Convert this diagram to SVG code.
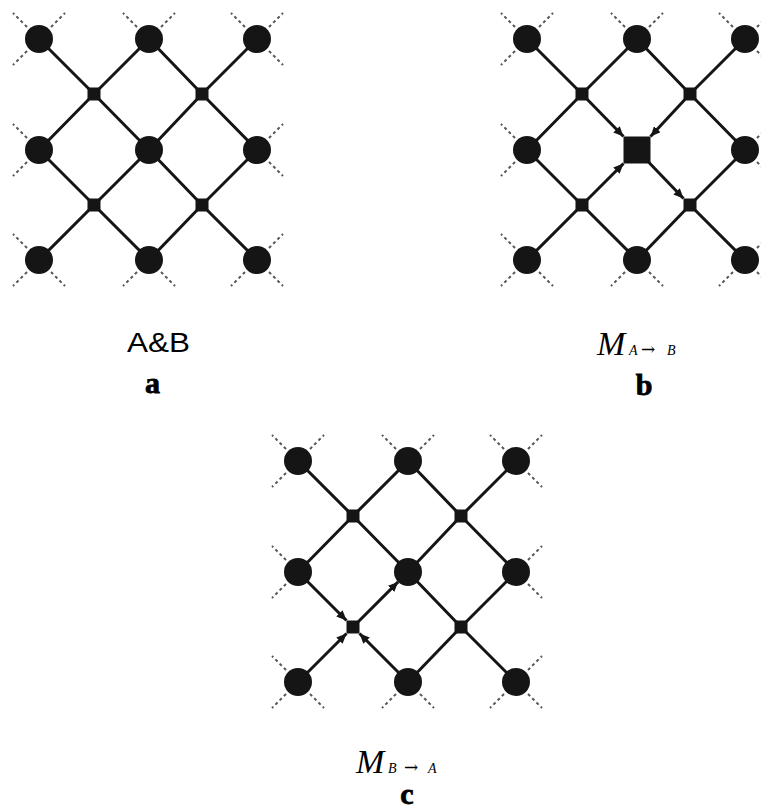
<svg xmlns="http://www.w3.org/2000/svg" width="761" height="811" viewBox="0 0 761 811">
<style>
.ln{stroke:#151515;stroke-width:3;fill:none}
.stub{stroke:#555;stroke-width:2;stroke-dasharray:3 3;fill:none}
.arw{stroke:#151515;stroke-width:3;fill:none;marker-end:url(#arr)}
.A{fill:#151515}
.B{fill:#151515}
.lab{font-family:"Liberation Sans",Arial,sans-serif;font-size:27px;fill:#000}
.math{font-family:"Liberation Serif","Times New Roman",serif;font-style:italic;fill:#000}
.arrowsym{font-family:"DejaVu Serif","Liberation Serif",serif;font-style:normal}
.let{font-family:"Liberation Serif","Times New Roman",serif;font-weight:bold;font-size:30px;text-anchor:middle;fill:#000;stroke:#000;stroke-width:0.8}
</style>
<defs>
<marker id="arr" markerUnits="userSpaceOnUse" markerWidth="10" markerHeight="9" refX="10" refY="4.5" orient="auto"><path d="M0,0 L10,4.5 L0,9 Z" fill="#151515"/></marker>
<path id="stubs" class="stub" d="M27 27l-14 -14M51 27l14 -14M27 51l-14 14M137 27l-14 -14M161 27l14 -14M245 27l-14 -14M269 27l14 -14M269 51l14 14M27 138l-14 -14M27 162l-14 14M269 138l14 -14M269 162l14 14M27 248l-14 -14M27 272l-14 14M51 272l14 14M137 272l-14 14M161 272l14 14M269 248l14 -14M245 272l-14 14M269 272l14 14"/>
</defs>

<!-- Panel a -->
<g id="panel-a">
  <g id="connectors-a">
    <use href="#stubs"/>
    <path class="ln" d="M94 94L39 39M94 94L149 39M94 94L39 150M94 94L149 150M202 94L149 39M202 94L257 39M202 94L149 150M202 94L257 150M94 205L39 150M94 205L149 150M94 205L39 260M94 205L149 260M202 205L149 150M202 205L257 150M202 205L149 260M202 205L257 260"/>
  </g>
  <g id="a-c00"><circle class="A" cx="39" cy="39" r="14"/></g>
  <g id="a-c10"><circle class="A" cx="149" cy="39" r="14"/></g>
  <g id="a-c20"><circle class="A" cx="257" cy="39" r="14"/></g>
  <g id="a-c01"><circle class="A" cx="39" cy="150" r="14"/></g>
  <g id="a-c11"><circle class="A" cx="149" cy="150" r="14"/></g>
  <g id="a-c21"><circle class="A" cx="257" cy="150" r="14"/></g>
  <g id="a-c02"><circle class="A" cx="39" cy="260" r="14"/></g>
  <g id="a-c12"><circle class="A" cx="149" cy="260" r="14"/></g>
  <g id="a-c22"><circle class="A" cx="257" cy="260" r="14"/></g>
  <g id="a-s00"><rect class="B" x="87.5" y="87.5" width="13" height="13"/></g>
  <g id="a-s10"><rect class="B" x="195.5" y="87.5" width="13" height="13"/></g>
  <g id="a-s01"><rect class="B" x="87.5" y="198.5" width="13" height="13"/></g>
  <g id="a-s11"><rect class="B" x="195.5" y="198.5" width="13" height="13"/></g>
</g>

<!-- Panel b -->
<g id="panel-b" transform="translate(488,0)">
  <g id="connectors-b">
    <use href="#stubs"/>
    <path class="ln" d="M94 94L39 39M94 94L149 39M94 94L39 150M202 94L149 39M202 94L257 39M202 94L257 150M94 205L39 150M94 205L39 260M94 205L149 260M202 205L257 150M202 205L149 260M202 205L257 260"/>
    <path class="arw" d="M94 94L135.5 136.5"/>
    <path class="arw" d="M202 94L162.5 136.5"/>
    <path class="arw" d="M94 205L135.5 163.5"/>
    <path class="arw" d="M149 150L195.5 198.5"/>
  </g>
  <g id="b-c00"><circle class="A" cx="39" cy="39" r="14"/></g>
  <g id="b-c10"><circle class="A" cx="149" cy="39" r="14"/></g>
  <g id="b-c20"><circle class="A" cx="257" cy="39" r="14"/></g>
  <g id="b-c01"><circle class="A" cx="39" cy="150" r="14"/></g>
  <g id="b-c11"><rect class="B" x="135.5" y="136.5" width="27" height="27"/></g>
  <g id="b-c21"><circle class="A" cx="257" cy="150" r="14"/></g>
  <g id="b-c02"><circle class="A" cx="39" cy="260" r="14"/></g>
  <g id="b-c12"><circle class="A" cx="149" cy="260" r="14"/></g>
  <g id="b-c22"><circle class="A" cx="257" cy="260" r="14"/></g>
  <g id="b-s00"><rect class="B" x="87.5" y="87.5" width="13" height="13"/></g>
  <g id="b-s10"><rect class="B" x="195.5" y="87.5" width="13" height="13"/></g>
  <g id="b-s01"><rect class="B" x="87.5" y="198.5" width="13" height="13"/></g>
  <g id="b-s11"><rect class="B" x="195.5" y="198.5" width="13" height="13"/></g>
</g>

<!-- Panel c -->
<g id="panel-c" transform="translate(259,422)">
  <g id="connectors-c">
    <use href="#stubs"/>
    <path class="ln" d="M94 94L39 39M94 94L149 39M94 94L39 150M94 94L149 150M202 94L149 39M202 94L257 39M202 94L149 150M202 94L257 150M202 205L149 150M202 205L257 150M202 205L149 260M202 205L257 260"/>
    <path class="arw" d="M39 150L87.5 198.5"/>
    <path class="arw" d="M39 260L87.5 211.5"/>
    <path class="arw" d="M149 260L100.5 211.5"/>
    <path class="arw" d="M94 205L139.1 159.9"/>
  </g>
  <g id="c-c00"><circle class="A" cx="39" cy="39" r="14"/></g>
  <g id="c-c10"><circle class="A" cx="149" cy="39" r="14"/></g>
  <g id="c-c20"><circle class="A" cx="257" cy="39" r="14"/></g>
  <g id="c-c01"><circle class="A" cx="39" cy="150" r="14"/></g>
  <g id="c-c11"><circle class="A" cx="149" cy="150" r="14"/></g>
  <g id="c-c21"><circle class="A" cx="257" cy="150" r="14"/></g>
  <g id="c-c02"><circle class="A" cx="39" cy="260" r="14"/></g>
  <g id="c-c12"><circle class="A" cx="149" cy="260" r="14"/></g>
  <g id="c-c22"><circle class="A" cx="257" cy="260" r="14"/></g>
  <g id="c-s00"><rect class="B" x="87.5" y="87.5" width="13" height="13"/></g>
  <g id="c-s10"><rect class="B" x="195.5" y="87.5" width="13" height="13"/></g>
  <g id="c-s01"><rect class="B" x="87.5" y="198.5" width="13" height="13"/></g>
  <g id="c-s11"><rect class="B" x="195.5" y="198.5" width="13" height="13"/></g>
</g>

<!-- Labels -->
<g id="labels">
  <text class="lab" x="127" y="352" textLength="63" lengthAdjust="spacingAndGlyphs">A&amp;B</text>
  <text class="let" x="152.5" y="393">a</text>
  <text class="math" y="355"><tspan x="597" font-size="34">M</tspan><tspan x="629" font-size="14">A</tspan><tspan class="arrowsym" x="641" font-size="17">→</tspan><tspan x="667" font-size="14">B</tspan></text>
  <text class="let" x="644" y="395">b</text>
  <text class="math" y="773"><tspan x="356" font-size="34">M</tspan><tspan x="388" font-size="14">B</tspan><tspan class="arrowsym" x="404" font-size="17">→</tspan><tspan x="428" font-size="14">A</tspan></text>
  <text class="let" x="407" y="804">c</text>
</g>
</svg>
